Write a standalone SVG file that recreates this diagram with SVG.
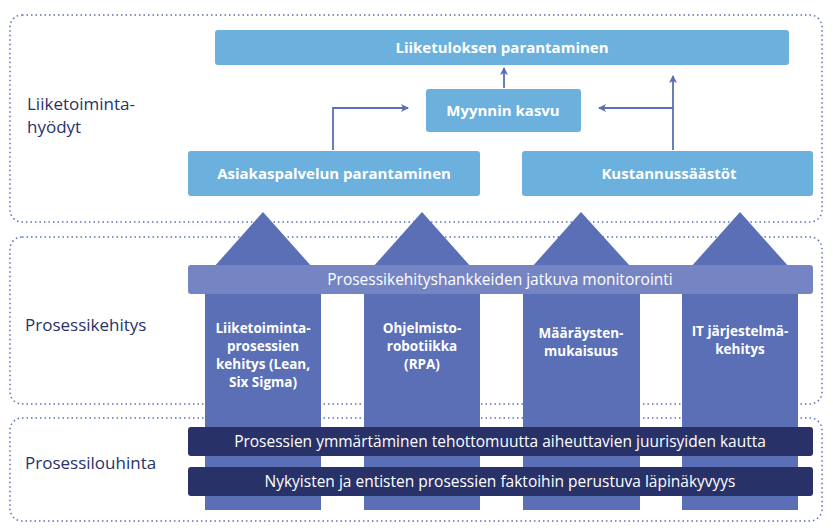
<svg xmlns="http://www.w3.org/2000/svg" width="833" height="530" viewBox="0 0 833 530">
<style>
.frame{fill:none;stroke:#5a6fb5;stroke-width:1.5;stroke-dasharray:1.5 3}
.lb{fill:#6cb0de}
.col{fill:#5a6fb5}
.dk{fill:#283269}
.t{font-family:"Open Sans","Liberation Sans",sans-serif;fill:#fff;text-anchor:middle}
.b{font-weight:700}
.side{font-family:"Open Sans","Liberation Sans",sans-serif;fill:#283269;font-size:17px}
.con{fill:none;stroke:#5a6fb5;stroke-width:1.8}
</style>
<defs><marker id="ah" markerWidth="8" markerHeight="8" refX="7" refY="4" orient="auto" markerUnits="userSpaceOnUse"><path d="M0,0 L8,4 L0,8 L2,4 Z" fill="#5a6fb5"/></marker></defs>
<rect class="frame" x="10" y="15" width="812" height="207" rx="12"/>
<rect class="frame" x="10" y="237" width="812" height="167" rx="12"/>
<rect class="frame" x="10" y="418" width="812" height="103" rx="12"/>
<text class="side" x="27" y="110">Liiketoiminta-</text>
<text class="side" x="27" y="133">hyödyt</text>
<text class="side" x="25" y="331">Prosessikehitys</text>
<text class="side" x="25" y="469">Prosessilouhinta</text>
<g id="cols">
<polygon class="col" points="263,212 205,277 205,510 321,510 321,277"/>
<polygon class="col" points="422,212 364,277 364,510 480,510 480,277"/>
<polygon class="col" points="581,212 523,277 523,510 640,510 640,277"/>
<polygon class="col" points="740,212 682,277 682,510 798,510 798,277"/>
<g class="t b" font-size="13.5">
<text x="263" y="333">Liiketoiminta-</text><text x="263" y="351">prosessien</text><text x="263" y="369">kehitys (Lean,</text><text x="263" y="387">Six Sigma)</text>
<text x="422" y="333">Ohjelmisto-</text><text x="422" y="351">robotiikka</text><text x="422" y="369">(RPA)</text>
<text x="581" y="338">Määräysten-</text><text x="581" y="356">mukaisuus</text>
<text x="740" y="336">IT järjestelmä-</text><text x="740" y="354">kehitys</text>
</g>
</g>
<g id="monitor"><rect x="188" y="265" width="625" height="29" rx="3" fill="#7585c4"/><text class="t" x="500" y="285" font-size="15.5">Prosessikehityshankkeiden jatkuva monitorointi</text></g>
<g id="ymm"><rect class="dk" x="188" y="427" width="625" height="29" rx="3"/><text class="t" x="500" y="447" font-size="15.5">Prosessien ymmärtäminen tehottomuutta aiheuttavien juurisyiden kautta</text></g>
<g id="nyk"><rect class="dk" x="188" y="467" width="625" height="29" rx="3"/><text class="t" x="500" y="487" font-size="15.5">Nykyisten ja entisten prosessien faktoihin perustuva läpinäkyvyys</text></g>
<g id="top"><rect class="lb" x="215" y="30" width="574" height="35" rx="3"/><text class="t b" x="502" y="53" font-size="15">Liiketuloksen parantaminen</text></g>
<g id="myy"><rect class="lb" x="426" y="89" width="155" height="43" rx="3"/><text class="t b" x="503" y="116" font-size="15">Myynnin kasvu</text></g>
<g id="asi"><rect class="lb" x="188" y="151" width="292" height="45" rx="3"/><text class="t b" x="334" y="179" font-size="15">Asiakaspalvelun parantaminen</text></g>
<g id="kus"><rect class="lb" x="522" y="151" width="291" height="45" rx="3"/><text class="t b" x="669" y="179" font-size="15">Kustannussäästöt</text></g>
<g id="connectors">
<path class="con" d="M333,150 V108 H408" marker-end="url(#ah)"/>
<path class="con" d="M673,150 V76" marker-end="url(#ah)"/>
<path class="con" d="M673,108 H599" marker-end="url(#ah)"/>
<path class="con" d="M504,88 V68" marker-end="url(#ah)"/>
</g>
</svg>
